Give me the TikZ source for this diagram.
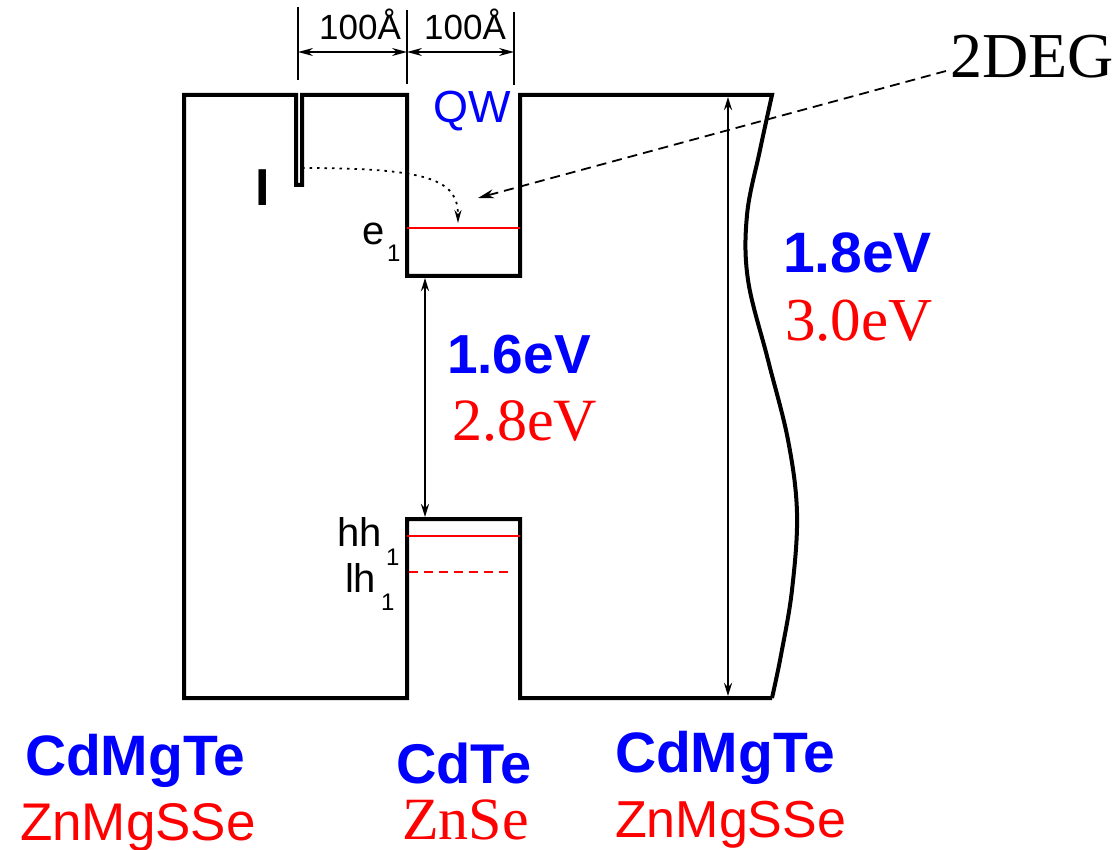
\documentclass[tikz,border=0pt]{standalone}
\usepackage{fontspec}
\setmainfont{Liberation Serif}
\setsansfont{Liberation Sans}
\newfontfamily\arialf{Liberation Sans}
\newfontfamily\tnrf{Liberation Serif}
\usetikzlibrary{arrows.meta}
\definecolor{qblue}{RGB}{0,0,255}
\definecolor{qred}{RGB}{255,0,0}
\newcommand{\fs}[1]{\fontsize{#1}{#1}\selectfont}
\tikzset{
  lbl/.style={inner sep=0pt, outer sep=0pt, anchor=base west},
  outline/.style={line width=4pt, line join=miter, black},
  thin/.style={line width=1.2pt, black},
  dimarrow/.style={line width=1.4pt, {Stealth[length=15pt,width=8pt]}-{Stealth[length=15pt,width=8pt]}},
  gaparrow/.style={line width=2.2pt, {Stealth[length=13pt,width=8pt]}-{Stealth[length=13pt,width=8pt]}},
  level/.style={line width=2pt, qred},
  bluebold/.style={lbl, text=qblue, font=\arialf\bfseries\fs{57}},
  redserif/.style={lbl, text=qred, font=\tnrf\fs{60}},
  redsans/.style={lbl, text=qred, font=\arialf\fs{52}},
  small/.style={lbl, font=\arialf\fs{40}},
  sub/.style={lbl, font=\arialf\fs{24}},
}
\begin{document}
\begin{tikzpicture}[x=1pt,y=-1pt]
\useasboundingbox (0,0) rectangle (1119,850);

% band outline
\draw[outline] (772,698) -- (520,698) -- (520,519) -- (407,519) -- (407,698) -- (184,698) -- (184,95)
  -- (296,95) -- (296,185) -- (302,185) -- (302,95) -- (407,95) -- (407,276) -- (520,276) -- (520,95) -- (772,95)
  -- plot[smooth, tension=0.6] coordinates {(772,95) (760,150) (747,215) (748,280) (768,360) (788,440) (797,513) (792,590) (781,655) (772,698)};

% dimension ticks
\coordinate (ta) at (298,7);  \coordinate (ba) at (298,80);
\coordinate (tb) at (407,10); \coordinate (bb) at (407,84);
\coordinate (tc) at (514,12); \coordinate (bc) at (514,85);
\draw[thin] (ta) -- (ba);
\draw[thin] (tb) -- (bb);
\draw[thin] (tc) -- (bc);
\coordinate (da) at (298,52); \coordinate (db) at (407,52); \coordinate (dc) at (514,52);
\draw[dimarrow] (da) -- (db);
\draw[dimarrow] (db) -- (dc);
\node[lbl, anchor=base, font=\arialf\fs{35}] (w1) at (360,40) {100Å};
\node[lbl, anchor=base, font=\arialf\fs{35}] (w2) at (465,40) {100Å};

% levels
\coordinate (e1l) at (407,228); \coordinate (e1r) at (520,228);
\draw[level] (e1l) -- (e1r);
\coordinate (h1l) at (407,536); \coordinate (h1r) at (520,536);
\draw[level] (h1l) -- (h1r);
\coordinate (l1l) at (409,572); \coordinate (l1r) at (512,572);
\draw[level, dash pattern=on 9pt off 6pt] (l1l) -- (l1r);

% gap arrows
\coordinate (qa) at (425,278); \coordinate (qb) at (425,517);
\draw[gaparrow] (qa) -- (qb);
\coordinate (ra) at (728,97); \coordinate (rb) at (728,696);
\draw[gaparrow] (ra) -- (rb);

% labels
\node[lbl, text=qblue, font=\arialf\fs{45}] (qw) at (433,123) {QW};
\node[lbl, anchor=base, font=\arialf\bfseries\fs{52}] (imp) at (263,206) {I};
\node[small] (e) at (362,245) {e};
\node[sub] (e1s) at (387,262) {1};
\node[small] (hh) at (337,546) {hh};
\node[sub] (hh1s) at (386,565) {1};
\node[small] (lh) at (345,592) {lh};
\node[sub] (lh1s) at (381,610) {1};

\node[bluebold] (g18) at (783,273) {1.8eV};
\node[redserif, font=\tnrf\fs{61}] (g30) at (785,340) {3.0eV};
\node[bluebold, font=\arialf\bfseries\fs{55}] (g16) at (447,373) {1.6eV};
\node[redserif] (g28) at (452,440) {2.8eV};

\node[lbl, font=\tnrf\fs{64}] (deg) at (950,78) {2DEG};

\node[bluebold] (m1) at (25,775) {CdMgTe};
\node[redsans, font=\arialf\fs{53}] (m1b) at (20,840) {ZnMgSSe};
\node[bluebold, font=\arialf\bfseries\fs{56}] (m2) at (396,783) {CdTe};
\node[redserif] (m2b) at (402,839) {ZnSe};
\node[bluebold] (m3) at (615,772) {CdMgTe};
\node[redsans] (m3b) at (615,837) {ZnMgSSe};

% dotted tunnelling path and 2DEG pointer
\coordinate (ds) at (302,168);
\coordinate (de) at (458,223);
\draw[line width=1.8pt, dash pattern=on 2.5pt off 5pt, -{Stealth[length=13pt,width=7pt]}] (ds) .. controls (430,168) and (458,180) .. (de);
\coordinate (ps) at (946,71);
\coordinate (pe) at (478,198);
\draw[line width=1.8pt, dash pattern=on 10pt off 6pt, -{Stealth[length=16pt,width=9pt]}] (ps) -- (pe);
\end{tikzpicture}
\end{document}
